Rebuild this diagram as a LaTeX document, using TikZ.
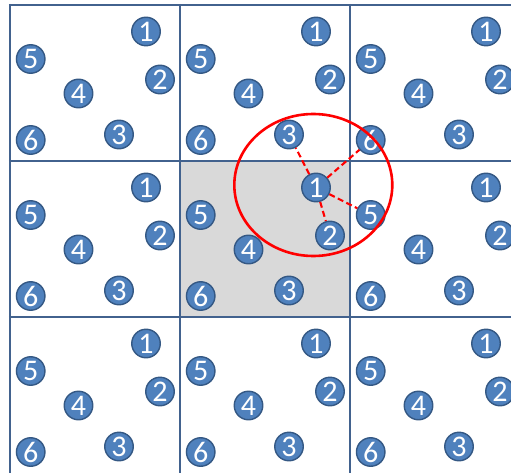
\documentclass[tikz,border=0pt]{standalone}
\usepackage{fontspec}
\setmainfont{Carlito}
\usetikzlibrary{shapes.geometric}
\definecolor{gridc}{RGB}{66,98,142}
\definecolor{ballf}{RGB}{79,129,189}
\definecolor{balld}{RGB}{52,88,132}
\definecolor{shadec}{RGB}{217,217,217}
\begin{document}
\begin{tikzpicture}[x=1pt,y=-1pt,
  ball/.style={circle,fill=ballf,draw=balld,line width=1.4pt,minimum size=28.5pt,inner sep=0pt,text=white,font=\fontsize{30}{30}\selectfont},
  gridline/.style={draw=gridc,line width=2.3pt},
  nbr/.style={draw=red,line width=2.1pt,dash pattern=on 6pt off 3.5pt},
  cutoff/.style={draw=red,line width=2.6pt,ellipse,minimum width=158pt,minimum height=142pt,inner sep=0pt}]
\useasboundingbox (0,0) rectangle (511,473);
\clip (0,0) rectangle (511,473);
\fill[white] (0,0) rectangle (511,473);
\fill[shadec] (180,161) rectangle (350,317);
\foreach \x in {10,180,350,520} \draw[gridline] (\x,3.85) -- (\x,490);
\foreach \y in {5,161,317} \draw[gridline] (8.85,\y) -- (530,\y);
\foreach \r in {0,1,2}{
  \foreach \c in {0,1,2}{
    \begin{scope}[shift={({10+170*\c},{5+156*\r})}]
      \node[ball] (p\r\c-1) at (136,26.5) {1};
      \node[ball] (p\r\c-2) at (150,74.5) {2};
      \node[ball] (p\r\c-3) at (109,129.5) {3};
      \node[ball] (p\r\c-4) at (68.5,88.5) {4};
      \node[ball] (p\r\c-5) at (20.7,54) {5};
      \node[ball] (p\r\c-6) at (20.7,135) {6};
    \end{scope}
  }
}
\node[cutoff] (cut) at (313.3,185) {};
\draw[nbr] (p11-1) -- (p01-3);
\draw[nbr] (p11-1) -- (p02-6);
\draw[nbr] (p11-1) -- (p12-5);
\draw[nbr] (p11-1) -- (p11-2);
\end{tikzpicture}
\end{document}
